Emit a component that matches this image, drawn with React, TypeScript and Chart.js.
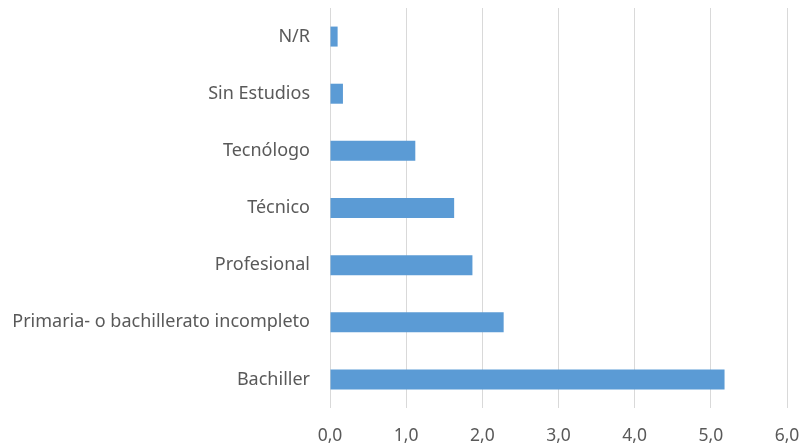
import React, { useEffect, useRef } from "react";
import { Chart, registerables } from "chart.js";

Chart.register(...registerables);

const categories = [
  "N/R",
  "Sin Estudios",
  "Tecnólogo",
  "Técnico",
  "Profesional",
  "Primaria- o bachillerato incompleto",
  "Bachiller",
];
const values = [0.1, 0.17, 1.12, 1.63, 1.87, 2.28, 5.18];
const axisMin = 0;
const axisMax = 6;
const axisStep = 1;

export default function App() {
  const ref = useRef<HTMLCanvasElement | null>(null);
  useEffect(() => {
    document.body.style.margin = "0";
    const ctx = ref.current!;
    const chart = new Chart(ctx, {
      type: "bar",
      data: {
        labels: categories,
        datasets: [
          {
            data: values,
            backgroundColor: "#5B9BD5",
            borderWidth: 0,
            barPercentage: 0.35,
            categoryPercentage: 1,
          },
        ],
      },
      options: {
        indexAxis: "y",
        animation: false,
        responsive: false,
        maintainAspectRatio: false,
        layout: { padding: { top: 8, right: 16, left: 0, bottom: 0 } },
        plugins: { legend: { display: false }, tooltip: { enabled: false } },
        scales: {
          x: {
            min: axisMin,
            max: axisMax,
            ticks: {
              stepSize: axisStep,
              color: "#595959",
              font: { family: "Noto Sans", size: 17.5 },
              padding: 18,
              callback: (v: any) => Number(v).toFixed(1).replace(".", ","),
            },
            grid: { color: "#d9d9d9", lineWidth: 1, drawTicks: false },
            border: { display: false },
            afterFit: (s: any) => {
              s.height = 40;
              s.paddingLeft = 0;
              s.paddingRight = 0;
            },
          },
          y: {
            ticks: {
              color: "#595959",
              font: { family: "Noto Sans", size: 18 },
              padding: 20,
            },
            grid: { display: false, drawTicks: false },
            border: { display: false },
            afterFit: (s: any) => {
              s.width = 330;
              s.paddingTop = 0;
              s.paddingBottom = 0;
            },
          },
        },
      },
    });
    return () => chart.destroy();
  }, []);
  return <canvas ref={ref} width={803} height={448} style={{ display: "block" }} />;
}
